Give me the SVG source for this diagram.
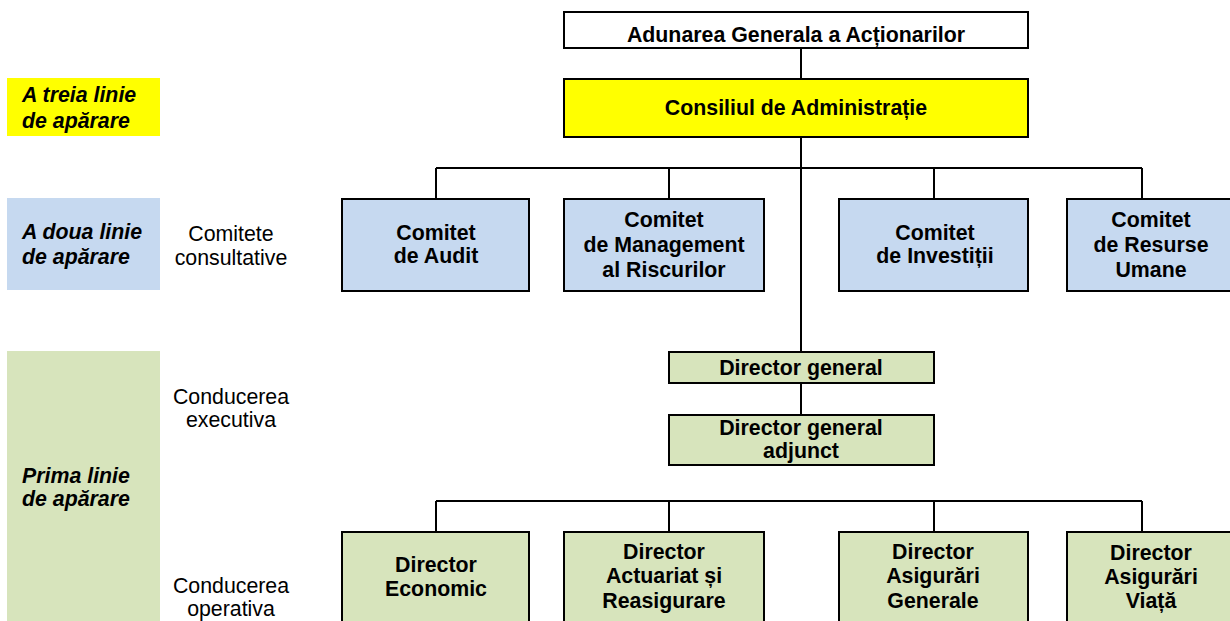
<svg xmlns="http://www.w3.org/2000/svg" width="1230" height="621" viewBox="0 0 1230 621">
<style>
.bx{stroke:#000;stroke-width:2}
.yl{fill:#FFFF00}
.bl{fill:#C6D9F0}
.gr{fill:#D7E4BC}
.wh{fill:#FFFFFF}
.t{font-family:"Liberation Sans",Arial,sans-serif;font-size:21.33px;font-weight:bold;text-anchor:middle;fill:#000}
.lab{font-family:"Liberation Sans",Arial,sans-serif;font-size:21.33px;font-weight:bold;font-style:italic;fill:#000}
.mid{font-family:"Liberation Sans",Arial,sans-serif;font-size:21.33px;text-anchor:middle;fill:#000}
.ln{stroke:#000;stroke-width:2;fill:none}
</style>
<rect width="1230" height="621" fill="#FFFFFF"/>

<g id="band-third">
<rect x="7" y="78" width="153" height="58" class="yl"/>
<text class="lab" x="22" y="102">A treia linie</text>
<text class="lab" x="22" y="128">de apărare</text>
</g>
<g id="band-second">
<rect x="7" y="198" width="153" height="92" class="bl"/>
<text class="lab" x="22" y="239">A doua linie</text>
<text class="lab" x="22" y="264">de apărare</text>
</g>
<g id="band-first">
<rect x="7" y="351" width="153" height="272" class="gr"/>
<text class="lab" x="22" y="483">Prima linie</text>
<text class="lab" x="22" y="506">de apărare</text>
</g>
<g id="label-comitete">
<text class="mid" x="231" y="241">Comitete</text>
<text class="mid" x="231" y="265">consultative</text>
</g>
<g id="label-executiva">
<text class="mid" x="231" y="404">Conducerea</text>
<text class="mid" x="231" y="427">executiva</text>
</g>
<g id="label-operativa">
<text class="mid" x="231" y="593">Conducerea</text>
<text class="mid" x="231" y="616">operativa</text>
</g>

<g id="connectors">
<path class="ln" d="M801 48V79"/>
<path class="ln" d="M801 137V352"/>
<path class="ln" d="M436 168H1142"/>
<path class="ln" d="M436 168V199M669 168V199M934 168V199M1142 168V199"/>
<path class="ln" d="M801 383V415"/>
<path class="ln" d="M436 501H1142"/>
<path class="ln" d="M436 501V532M669 501V532M934 501V532M1142 501V532"/>
</g>

<g id="aga">
<rect x="564" y="12" width="464" height="36" class="bx wh"/>
<text class="t" x="796" y="42">Adunarea Generala a Acționarilor</text>
</g>
<g id="ca">
<rect x="564" y="79" width="464" height="58" class="bx yl"/>
<text class="t" x="796" y="115">Consiliul de Administrație</text>
</g>

<g id="comitet-audit">
<rect x="342" y="199" width="187" height="92" class="bx bl"/>
<text class="t" x="436" y="240">Comitet</text>
<text class="t" x="436" y="263">de Audit</text>
</g>
<g id="comitet-risc">
<rect x="564" y="199" width="200" height="92" class="bx bl"/>
<text class="t" x="664" y="227">Comitet</text>
<text class="t" x="664" y="252">de Management</text>
<text class="t" x="664" y="277">al Riscurilor</text>
</g>
<g id="comitet-investitii">
<rect x="839" y="199" width="189" height="92" class="bx bl"/>
<text class="t" x="935" y="240">Comitet</text>
<text class="t" x="935" y="263">de Investiții</text>
</g>
<g id="comitet-hr">
<rect x="1067" y="199" width="170" height="92" class="bx bl"/>
<text class="t" x="1151" y="227">Comitet</text>
<text class="t" x="1151" y="252">de Resurse</text>
<text class="t" x="1151" y="277">Umane</text>
</g>

<g id="dg">
<rect x="669" y="352" width="265" height="31" class="bx gr"/>
<text class="t" x="801" y="375">Director general</text>
</g>
<g id="dga">
<rect x="669" y="415" width="265" height="50" class="bx gr"/>
<text class="t" x="801" y="435">Director general</text>
<text class="t" x="801" y="458">adjunct</text>
</g>

<g id="dir-economic">
<rect x="342" y="532" width="187" height="110" class="bx gr"/>
<text class="t" x="436" y="572">Director</text>
<text class="t" x="436" y="596">Economic</text>
</g>
<g id="dir-actuariat">
<rect x="564" y="532" width="200" height="110" class="bx gr"/>
<text class="t" x="664" y="559">Director</text>
<text class="t" x="664" y="583">Actuariat și</text>
<text class="t" x="664" y="608">Reasigurare</text>
</g>
<g id="dir-generale">
<rect x="839" y="532" width="189" height="110" class="bx gr"/>
<text class="t" x="933" y="559">Director</text>
<text class="t" x="933" y="583">Asigurări</text>
<text class="t" x="933" y="608">Generale</text>
</g>
<g id="dir-viata">
<rect x="1067" y="532" width="170" height="110" class="bx gr"/>
<text class="t" x="1151" y="560">Director</text>
<text class="t" x="1151" y="584">Asigurări</text>
<text class="t" x="1151" y="608">Viață</text>
</g>
</svg>
